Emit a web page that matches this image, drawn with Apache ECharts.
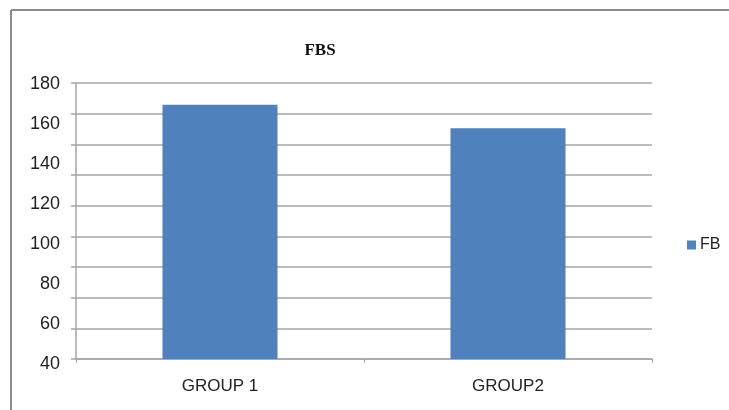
<!DOCTYPE html>
<html>
<head>
<meta charset="utf-8">
<script src="https://cdn.jsdelivr.net/npm/echarts@6/dist/echarts.min.js"></script>
<style>
  html, body { margin: 0; padding: 0; background: #fff; }
  #chart { width: 729px; height: 410px; }
</style>
</head>
<body>
<div id="chart"></div>
<script>
// Fasting blood sugar by group
const categories = ['GROUP 1', 'GROUP2'];
const seriesName = 'FB';
const fbValues = [169, 157];
const yMin = 40;
const yMax = 180;
const yLabelStep = 20;
const gridBands = 9; // horizontal rule bands drawn across the plot

const chart = echarts.init(document.getElementById('chart'), null, { renderer: 'canvas' });

const gray = '#a6a6a6';

chart.setOption({
  animation: false,
  backgroundColor: '#ffffff',
  title: {
    text: 'FBS',
    left: 315,
    top: 37,
    textAlign: 'center',
    textStyle: { fontFamily: 'Liberation Serif', fontWeight: 'bold', fontSize: 17, color: '#111' }
  },
  legend: {
    data: [seriesName],
    left: 682,
    top: 232,
    icon: 'rect',
    itemWidth: 9,
    itemHeight: 9,
    itemGap: 6,
    textStyle: { fontFamily: 'Liberation Sans', fontSize: 16, color: '#222', padding: [0, 0, 0, -1] }
  },
  grid: [
    { left: 76, right: 77, top: 83, bottom: 51 },
    { left: 68, width: 10, top: 84, height: 280 }
  ],
  xAxis: [
    {
      type: 'category',
      gridIndex: 0,
      data: categories,
      boundaryGap: true,
      axisLine: { lineStyle: { color: gray, width: 1.5 } },
      axisTick: { show: true, length: 4, lineStyle: { color: gray } },
      axisLabel: { margin: 19, fontFamily: 'Liberation Sans', fontSize: 17, color: '#222' }
    },
    { type: 'value', gridIndex: 1, show: false }
  ],
  yAxis: [
    {
      type: 'value',
      gridIndex: 0,
      min: yMin,
      max: yMax,
      show: false
    },
    {
      type: 'value',
      gridIndex: 0,
      position: 'left',
      min: 0,
      max: gridBands,
      interval: 1,
      axisLine: { show: true, lineStyle: { color: gray, width: 1.5 } },
      axisTick: { show: true, length: 5, lineStyle: { color: gray, width: 1.5 } },
      axisLabel: { show: false },
      splitLine: { show: true, lineStyle: { color: gray, width: 1.5 } }
    },
    {
      type: 'value',
      gridIndex: 1,
      min: yMin,
      max: yMax,
      interval: yLabelStep,
      axisLine: { show: false },
      axisTick: { show: false },
      splitLine: { show: false },
      axisLabel: { margin: 8, fontFamily: 'Liberation Sans', fontSize: 18, color: '#222' }
    }
  ],
  series: [
    {
      name: seriesName,
      type: 'bar',
      xAxisIndex: 0,
      yAxisIndex: 0,
      data: fbValues,
      barWidth: 115,
      itemStyle: { color: '#4f81bd' },
      z: 3
    }
  ],
  graphic: [
    { type: 'line', shape: { x1: 11, y1: 10, x2: 729, y2: 10 }, style: { stroke: '#8c8c8c', lineWidth: 2 } },
    { type: 'line', shape: { x1: 11, y1: 10, x2: 11, y2: 410 }, style: { stroke: '#8c8c8c', lineWidth: 2 } }
  ]
});
</script>
</body>
</html>
